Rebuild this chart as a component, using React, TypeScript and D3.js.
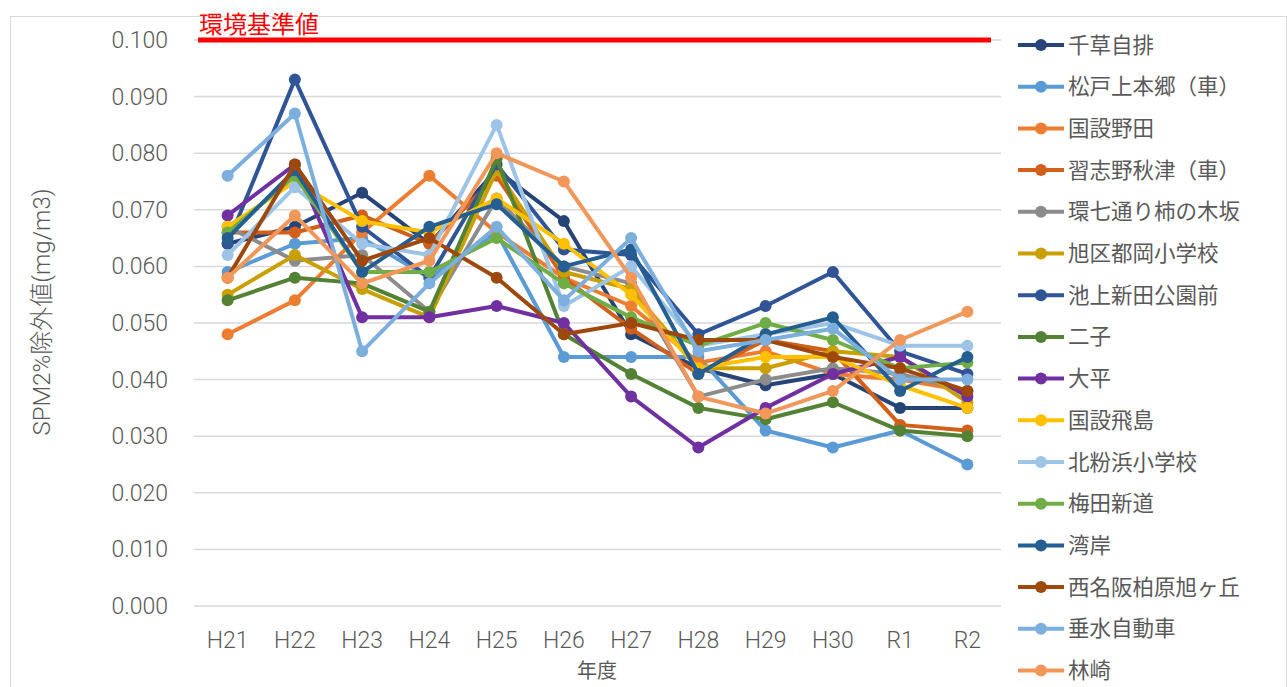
import React, { useEffect, useRef } from 'react'
import * as d3 from 'd3'

const years = ['H21', 'H22', 'H23', 'H24', 'H25', 'H26', 'H27', 'H28', 'H29', 'H30', 'R1', 'R2']

const seriesNames = [
  '千草自排', '松戸上本郷（車）', '国設野田', '習志野秋津（車）', '環七通り柿の木坂', '旭区都岡小学校',
  '池上新田公園前', '二子', '大平', '国設飛島', '北粉浜小学校', '梅田新道', '湾岸', '西名阪柏原旭ヶ丘',
  '垂水自動車', '林崎',
]

const seriesColors = [
  '#264478', '#5B9BD5', '#ED7D31', '#D2601A', '#8C8C8C', '#C9A000',
  '#2F5597', '#548235', '#7030A0', '#FFC000', '#9DC3E6', '#70AD47', '#255E91', '#9E480E',
  '#7CAFDD', '#F1975A',
]

const chigusa = [0.064, 0.067, 0.073, 0.064, 0.077, 0.068, 0.048, 0.042, 0.039, 0.041, 0.035, 0.035]
const matsudo = [0.059, 0.064, 0.065, 0.058, 0.066, 0.044, 0.044, 0.044, 0.031, 0.028, 0.031, 0.025]
const noda = [0.048, 0.054, 0.066, 0.076, 0.066, 0.058, 0.053, 0.043, 0.045, 0.041, 0.040, 0.038]
const narashino = [0.066, 0.066, 0.069, 0.064, 0.076, 0.058, 0.049, 0.041, 0.047, 0.045, 0.032, 0.031]
const kannana = [0.067, 0.061, 0.062, 0.052, 0.072, 0.060, 0.057, 0.037, 0.040, 0.042, 0.041, 0.038]
const asahiku = [0.055, 0.062, 0.056, 0.051, 0.077, 0.059, 0.056, 0.042, 0.042, 0.045, 0.044, 0.036]
const ikegami = [0.064, 0.093, 0.067, 0.058, 0.078, 0.063, 0.062, 0.048, 0.053, 0.059, 0.045, 0.041]
const futago = [0.054, 0.058, 0.057, 0.052, 0.079, 0.048, 0.041, 0.035, 0.033, 0.036, 0.031, 0.030]
const ohira = [0.069, 0.078, 0.051, 0.051, 0.053, 0.050, 0.037, 0.028, 0.035, 0.041, 0.044, 0.037]
const tobishima = [0.067, 0.075, 0.068, 0.066, 0.072, 0.064, 0.055, 0.042, 0.044, 0.044, 0.039, 0.035]
const kitakohama = [0.062, 0.074, 0.064, 0.062, 0.085, 0.053, 0.060, 0.046, 0.048, 0.050, 0.046, 0.046]
const umeda = [0.066, 0.076, 0.059, 0.059, 0.065, 0.057, 0.051, 0.046, 0.050, 0.047, 0.042, 0.043]
const wangan = [0.065, 0.077, 0.059, 0.067, 0.071, 0.060, 0.063, 0.041, 0.048, 0.051, 0.038, 0.044]
const nishimeihan = [0.058, 0.078, 0.061, 0.065, 0.058, 0.048, 0.050, 0.047, 0.047, 0.044, 0.042, 0.038]
const tarumi = [0.076, 0.087, 0.045, 0.057, 0.067, 0.054, 0.065, 0.045, 0.047, 0.049, 0.040, 0.040]
const hayashizaki = [0.058, 0.069, 0.057, 0.061, 0.080, 0.075, 0.058, 0.037, 0.034, 0.038, 0.047, 0.052]

const seriesValues = [
  chigusa, matsudo, noda, narashino, kannana, asahiku, ikegami, futago, ohira, tobishima,
  kitakohama, umeda, wangan, nishimeihan, tarumi, hayashizaki,
]

const yTicks = [0, 0.01, 0.02, 0.03, 0.04, 0.05, 0.06, 0.07, 0.08, 0.09, 0.1]
const standardValue = 0.1
const standardLabel = '環境基準値'

const W = 1287
const H = 687
const FONT = 'Roboto, "Noto Sans CJK JP", sans-serif'
const JFONT = '"Noto Sans CJK JP", "Noto Sans", sans-serif'

function App() {
  const ref = useRef<SVGSVGElement>(null)

  useEffect(() => {
    const svg = d3.select(ref.current)
    svg.selectAll('*').remove()

    const plot = { left: 194, right: 1001, top: 40, bottom: 606 }

    const x = d3.scaleBand().domain(years).range([plot.left, plot.right])
    const y = d3.scaleLinear().domain([0, 0.1]).range([plot.bottom, plot.top])
    const cx = (d: string) => (x(d) as number) + x.bandwidth() / 2

    svg.append('rect')
      .attr('x', 0).attr('y', 0).attr('width', W).attr('height', H).attr('fill', '#fff')

    // outer chart border
    svg.append('rect')
      .attr('x', 10.5).attr('y', 16.5).attr('width', W - 11).attr('height', H - 16)
      .attr('fill', 'none').attr('stroke', '#D9D9D9').attr('stroke-width', 1)

    // grid
    svg.append('g')
      .selectAll('line')
      .data(yTicks)
      .enter()
      .append('line')
      .attr('x1', plot.left).attr('x2', plot.right)
      .attr('y1', d => y(d)).attr('y2', d => y(d))
      .attr('stroke', '#D9D9D9').attr('stroke-width', 1.5)

    // y tick labels
    svg.append('g')
      .selectAll('text')
      .data(yTicks)
      .enter()
      .append('text')
      .attr('x', 168).attr('y', d => y(d))
      .attr('dy', '0.35em')
      .attr('text-anchor', 'end')
      .attr('font-family', FONT).attr('font-weight', 300).attr('font-size', 23).attr('fill', '#595959')
      .text(d => d3.format('.3f')(d))

    // x tick labels
    svg.append('g')
      .selectAll('text')
      .data(years)
      .enter()
      .append('text')
      .attr('x', d => cx(d)).attr('y', 640)
      .attr('dy', '0.35em')
      .attr('text-anchor', 'middle')
      .attr('font-family', FONT).attr('font-weight', 300).attr('font-size', 23).attr('fill', '#595959')
      .text(d => d)

    svg.append('text')
      .attr('x', 597).attr('y', 671).attr('dy', '0.35em')
      .attr('text-anchor', 'middle')
      .attr('font-family', JFONT).attr('font-size', 20).attr('fill', '#595959')
      .text('年度')

    svg.append('text')
      .attr('transform', `translate(42, 312) rotate(-90)`)
      .attr('dy', '0.35em')
      .attr('text-anchor', 'middle')
      .attr('font-family', FONT).attr('font-weight', 300).attr('font-size', 24).attr('fill', '#595959')
      .text('SPM2%除外値(mg/m3)')

    // environmental standard line
    svg.append('line')
      .attr('x1', 198).attr('x2', 991)
      .attr('y1', y(standardValue)).attr('y2', y(standardValue))
      .attr('stroke', '#FF0000').attr('stroke-width', 5)

    svg.append('text')
      .attr('x', 199).attr('y', 33)
      .attr('font-family', JFONT).attr('font-size', 24).attr('fill', '#FF0000')
      .text(standardLabel)

    const line = d3.line<number>()
      .x((d, i) => cx(years[i]))
      .y(d => y(d))

    const lines = svg.append('g')
    seriesValues.forEach((vals, si) => {
      const g = lines.append('g')
      g.append('path')
        .attr('d', line(vals))
        .attr('fill', 'none')
        .attr('stroke', seriesColors[si])
        .attr('stroke-width', 4)
        .attr('stroke-linejoin', 'round')
      g.selectAll('circle')
        .data(vals)
        .enter()
        .append('circle')
        .attr('cx', (d, i) => cx(years[i]))
        .attr('cy', d => y(d))
        .attr('r', 6)
        .attr('fill', seriesColors[si])
    })

    // legend
    const legend = svg.append('g')
    seriesNames.forEach((name, i) => {
      const ly = 45 + i * 41.7
      legend.append('line')
        .attr('x1', 1018).attr('x2', 1064).attr('y1', ly).attr('y2', ly)
        .attr('stroke', seriesColors[i]).attr('stroke-width', 4)
      legend.append('circle')
        .attr('cx', 1041).attr('cy', ly).attr('r', 6).attr('fill', seriesColors[i])
      legend.append('text')
        .attr('x', 1068).attr('y', ly).attr('dy', '0.35em')
        .attr('font-family', JFONT).attr('font-size', 21.5).attr('fill', '#595959')
        .text(name)
    })
  }, [])

  return (
    <svg ref={ref} width={W} height={H} style={{ display: 'block', position: 'absolute', left: 0, top: 0 }} />
  )
}

export default App
